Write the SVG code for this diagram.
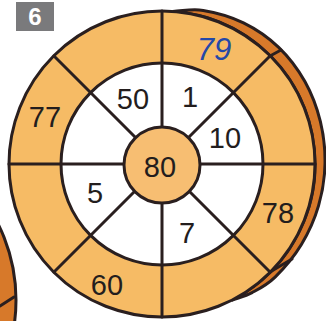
<svg xmlns="http://www.w3.org/2000/svg" width="326" height="321" viewBox="0 0 326 321">
<style>
.ln{stroke:#2a1f1f;stroke-width:3;fill:none;stroke-linecap:round}
.o{fill:#f6bb65;stroke:#2a1f1f;stroke-width:3}
.dk{fill:#d7792a;stroke:#2a1f1f;stroke-width:3}
.t{font-family:"Liberation Sans",Arial,sans-serif;font-size:29px;fill:#231d1d;text-anchor:middle}
</style>
<g id="neighbour">
<circle cx="-154" cy="300" r="170" class="dk"/>
<line x1="0" y1="306" x2="14" y2="297" class="ln"/>
</g>
<g id="rim">
<path class="dk" d="M172.7 11.4 C182.9 11.1 191.4 8.5 203.2 10.4 C215 12.3 230.9 16.65 243.5 22.8 C256.1 28.95 268.5 37.5 278.7 47.3 C288.9 57.1 297.95 69.1 304.9 81.5 C311.85 93.9 317.05 107.85 320.4 121.6 C323.75 135.35 325.3 149.95 325 164 C324.7 178.05 322.4 192.5 318.5 205.9 C314.6 219.3 308.6 232.6 301.4 244.5 C294.2 256.4 283.3 269.1 275.1 277.1 C266.9 285.1 259.4 288.7 252.1 292.6 C244.8 296.5 238.4 297.7 231.5 300.3 A153 153 0 0 0 172.7 11.4 Z"/>
</g>
<g id="outer-ring">
<circle cx="162" cy="164" r="153" class="o"/>
</g>
<g id="inner-ring">
<circle cx="162" cy="164" r="101" fill="#ffffff" stroke="#2a1f1f" stroke-width="3"/>
</g>
<g id="connectors">
<line x1="162" y1="11" x2="162" y2="317" class="ln"/>
<line x1="9" y1="164" x2="315" y2="164" class="ln"/>
<line x1="54" y1="56" x2="270" y2="272" class="ln"/>
<line x1="270" y1="56" x2="54" y2="272" class="ln"/>
<line x1="270" y1="56" x2="281" y2="50" class="ln"/>
<line x1="270" y1="272" x2="292" y2="259" class="ln"/>
</g>
<g id="center">
<circle cx="162" cy="165" r="38" fill="#f7be72" stroke="#2a1f1f" stroke-width="3"/>
<text x="160" y="177" class="t">80</text>
</g>
<g id="n50"><text x="133" y="109" class="t">50</text></g>
<g id="n1"><text x="190" y="107" class="t">1</text></g>
<g id="n10"><text x="225" y="148" class="t">10</text></g>
<g id="n5"><text x="95" y="203" class="t">5</text></g>
<g id="n7"><text x="187" y="243" class="t">7</text></g>
<g id="n78"><text x="278" y="223" class="t">78</text></g>
<g id="n60"><text x="107" y="295" class="t">60</text></g>
<g id="n77"><text x="45" y="127" class="t">77</text></g>
<g id="n79"><text x="214" y="60" class="t" style="fill:#2448a8;font-style:italic;font-size:31px">79</text></g>
<g id="badge">
<rect x="16" y="2" width="38" height="29" fill="#7a7a7c"/>
<text x="35" y="25" style="font-family:'Liberation Sans',Arial,sans-serif;font-size:24px;font-weight:bold;fill:#ffffff;text-anchor:middle">6</text>
</g>
</svg>
